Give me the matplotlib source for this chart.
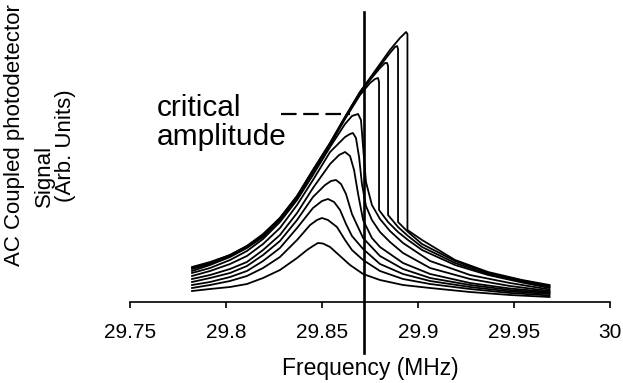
import matplotlib
matplotlib.use("Agg")
from matplotlib import pyplot as plt

plt.rcParams['font.family'] = ['Liberation Sans', 'DejaVu Sans']

# frequency axis
x_ticks = [29.75, 29.8, 29.85, 29.9, 29.95, 30.0]
x_tick_labels = ["29.75", "29.8", "29.85", "29.9", "29.95", "30"]

# sweep curves, lowest drive first (signal in arb. units)
freq_1 = [29.7823, 29.7917, 29.8021, 29.8109, 29.8193, 29.8281, 29.8370, 29.8422, 29.8453, 29.8479,
          29.8505, 29.8542, 29.8594, 29.8646, 29.8714, 29.8802, 29.8922, 29.9063, 29.9271, 29.9479, 29.9685]
sig_1 = [11, 13, 15, 18, 24, 32, 44, 52, 56, 59, 58.5, 55, 46, 37, 28, 22, 17, 14, 10, 7, 5]

freq_2 = [29.7823, 29.7917, 29.8021, 29.8109, 29.8193, 29.8281, 29.8370, 29.8438, 29.8474, 29.8500,
          29.8531, 29.8578, 29.8620, 29.8656, 29.8714, 29.8802, 29.8922, 29.9063, 29.9271, 29.9479, 29.9685]
sig_2 = [14, 17, 21, 26, 34, 45, 62, 77, 82, 84, 82, 75, 62, 52, 42, 31, 23, 18, 13, 9, 6.5]

freq_3 = [29.7823, 29.7917, 29.8021, 29.8109, 29.8193, 29.8281, 29.8370, 29.8453, 29.8500, 29.8531,
          29.8563, 29.8594, 29.8625, 29.8656, 29.8714, 29.8802, 29.8922, 29.9063, 29.9271, 29.9479, 29.9685]
sig_3 = [17, 20, 25, 31, 41, 54, 74, 94, 101, 103, 100, 92, 78, 66, 53, 38, 28, 21, 15, 10.5, 8]

freq_4 = [29.7823, 29.7917, 29.8021, 29.8109, 29.8193, 29.8281, 29.8370, 29.8453, 29.8516, 29.8547,
          29.8573, 29.8599, 29.8625, 29.8656, 29.8714, 29.8802, 29.8922, 29.9063, 29.9271, 29.9479, 29.9685]
sig_4 = [20, 24, 29, 36, 47, 61, 82, 105, 117, 121, 122, 118, 108, 88, 64, 46, 33, 24, 17, 12, 9]

freq_5 = [29.7823, 29.7917, 29.8021, 29.8109, 29.8193, 29.8281, 29.8370, 29.8453, 29.8542, 29.8589,
          29.8620, 29.8646, 29.8667, 29.8688, 29.8714, 29.8760, 29.8802, 29.8922, 29.9063, 29.9271,
          29.9479, 29.9685]
sig_5 = [23, 27, 33, 40, 52, 67, 89, 114, 138, 147, 150, 146, 132, 108, 82, 64, 55, 39, 28, 19, 13.5, 10]

freq_6 = [29.7823, 29.7917, 29.8021, 29.8109, 29.8193, 29.8281, 29.8370, 29.8453, 29.8542, 29.8620,
          29.8646, 29.8661, 29.8677, 29.8693, 29.8708, 29.8729, 29.8760, 29.8802, 29.8854, 29.8922,
          29.9063, 29.9271, 29.9479, 29.9685]
sig_6 = [26, 31, 38, 46, 58, 74, 97, 122, 150, 165, 168, 169, 164, 145, 118, 96, 82, 70, 60, 49, 34, 23, 16, 11]

freq_7 = [29.7823, 29.7917, 29.8021, 29.8109, 29.8193, 29.8281, 29.8370, 29.8453, 29.8542, 29.8620,
          29.8656, 29.8688, 29.8703, 29.8714, 29.8729, 29.8760, 29.8802, 29.8854, 29.8922, 29.9063,
          29.9271, 29.9479, 29.9685]
sig_7 = [29, 34, 42, 51, 63, 80, 102, 127, 155, 178, 186, 188, 182, 155, 120, 97, 83, 71, 59, 41, 27, 19, 12.5]

freq_8 = [29.7823, 29.7917, 29.8021, 29.8109, 29.8193, 29.8281, 29.8370, 29.8453, 29.8542, 29.8620,
          29.8698, 29.8750, 29.8776, 29.8792, 29.8797, 29.8797, 29.8844, 29.8896, 29.8948, 29.9021,
          29.9193, 29.9365, 29.9542, 29.9685]
sig_8 = [31, 37, 45, 54, 65, 82, 104, 130, 157, 183, 207, 219, 223, 224, 220, 92, 80, 70, 62, 52, 37, 27, 19.5, 14]

freq_9 = [29.7823, 29.7917, 29.8021, 29.8109, 29.8193, 29.8281, 29.8370, 29.8453, 29.8542, 29.8620,
          29.8698, 29.8750, 29.8802, 29.8828, 29.8839, 29.8844, 29.8844, 29.8896, 29.8948, 29.9021,
          29.9193, 29.9365, 29.9542, 29.9685]
sig_9 = [33, 38, 46, 55, 66, 83, 105, 131, 158, 184, 209, 222, 234, 239, 239, 236, 87, 75, 66, 55, 39, 28, 20.5, 15]

freq_10 = [29.7823, 29.7917, 29.8021, 29.8109, 29.8193, 29.8281, 29.8370, 29.8453, 29.8542, 29.8620,
           29.8698, 29.8750, 29.8802, 29.8854, 29.8880, 29.8891, 29.8896, 29.8896, 29.8948, 29.9021,
           29.9193, 29.9365, 29.9542, 29.9685]
sig_10 = [34, 39, 47, 56, 67, 84, 106, 132, 159, 185, 210, 223, 236, 249, 255, 256, 253, 80, 70, 58, 41, 29, 21.5, 16]

freq_11 = [29.7823, 29.7917, 29.8021, 29.8109, 29.8193, 29.8281, 29.8370, 29.8453, 29.8542, 29.8620,
           29.8698, 29.8750, 29.8802, 29.8854, 29.8906, 29.8938, 29.8945, 29.8945, 29.9021, 29.9193,
           29.9365, 29.9542, 29.9685]
sig_11 = [35, 40, 47, 56, 68, 84, 106, 132, 159, 185, 210, 224, 238, 252, 264, 270, 268, 72, 62, 42, 30, 22, 17]

# markers
marker_freq = 29.872
critical_freqs = [29.8286, 29.8646]
critical_level = 188

curves = [(freq_1, sig_1), (freq_2, sig_2), (freq_3, sig_3), (freq_4, sig_4), (freq_5, sig_5),
          (freq_6, sig_6), (freq_7, sig_7), (freq_8, sig_8), (freq_9, sig_9), (freq_10, sig_10),
          (freq_11, sig_11)]

W, H = 623, 383
fig = plt.figure(figsize=(W / 100, H / 100), dpi=100)
ax = fig.add_axes([130 / W, 81 / H, 480 / W, 302 / H])

for f, s in curves:
    ax.plot(f, s, color='black', lw=1.3, solid_joinstyle='round')

ax.plot([marker_freq, marker_freq], [-51, 290], color='black', lw=1.9, clip_on=False)
ax.plot(critical_freqs, [critical_level, critical_level], color='black', lw=1.6,
        linestyle=(0, (7, 3)))

ax.text(29.764, 186, "critical", fontsize=21.5, ha='left', va='baseline')
ax.text(29.764, 157, "amplitude", fontsize=21.5, ha='left', va='baseline')

ax.set_xlim(29.75, 30.0)
ax.set_ylim(0, 302)
for side in ['left', 'top', 'right']:
    ax.spines[side].set_visible(False)
ax.spines['bottom'].set_linewidth(1.2)
ax.set_yticks([])
ax.set_xticks(x_ticks)
ax.set_xticklabels(x_tick_labels, fontsize=15)
ax.tick_params(axis='x', direction='out', length=4, width=1.2, pad=11)
ax.set_xlabel("Frequency (MHz)", fontsize=16.5, labelpad=11)

fig.text(15 / W, 1 - 135 / H, "AC Coupled photodetector", rotation=90, fontsize=16,
         ha='center', va='center')
fig.text(44 / W, 1 - 176 / H, "Signal", rotation=90, fontsize=16, ha='center', va='center')
fig.text(65 / W, 1 - 146 / H, "(Arb. Units)", rotation=90, fontsize=16, ha='center', va='center')

fig.savefig("out.png", dpi=100)
